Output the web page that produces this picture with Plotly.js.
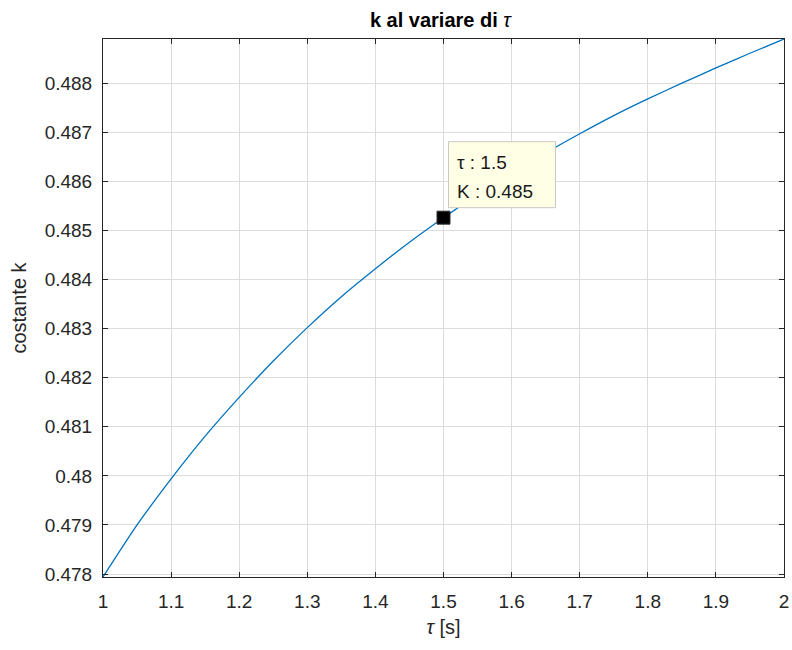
<!DOCTYPE html>
<html>
<head>
<meta charset="utf-8">
<script src="https://cdn.plot.ly/plotly-3.0.1.min.js"></script>
<style>html,body{margin:0;padding:0;background:#fff;}#chart{width:792px;height:650px;}</style>
</head>
<body>
<div id="chart"></div>
<script>
// ---- data ----
const tau = [1.00, 1.05, 1.10, 1.15, 1.20, 1.25, 1.30, 1.35, 1.40, 1.45, 1.50,
             1.55, 1.60, 1.65, 1.70, 1.75, 1.80, 1.85, 1.90, 1.95, 2.00];
const kVal = [0.47794, 0.47900, 0.47994, 0.48081, 0.48160, 0.48234, 0.48302, 0.48365, 0.48422, 0.48476, 0.48526,
              0.48573, 0.48617, 0.48658, 0.48697, 0.48734, 0.48768, 0.48800, 0.48831, 0.48861, 0.48890];
const tipX = [1.5];
const tipY = [0.48526];
const tipLines = ["τ : 1.5", "K : 0.485"];
const xTicks = [1, 1.1, 1.2, 1.3, 1.4, 1.5, 1.6, 1.7, 1.8, 1.9, 2];
const xTickText = ["1", "1.1", "1.2", "1.3", "1.4", "1.5", "1.6", "1.7", "1.8", "1.9", "2"];
const yTicks = [0.478, 0.479, 0.480, 0.481, 0.482, 0.483, 0.484, 0.485, 0.486, 0.487, 0.488];
const yTickText = ["0.478", "0.479", "0.48", "0.481", "0.482", "0.483", "0.484", "0.485", "0.486", "0.487", "0.488"];

const FONT = "Liberation Sans, Arial, Helvetica, sans-serif";
const AX = "#262626";

const traces = [
  {x: tau, y: kVal, type: "scatter", mode: "lines", line: {color: "#0072BD", width: 1.3, shape: "spline", smoothing: 0.6}, hoverinfo: "skip"},
  {x: tipX, y: tipY, type: "scatter", mode: "markers", marker: {symbol: "square", size: 13, color: "#000000", line: {color: "#333333", width: 1}}, hoverinfo: "skip"}
];

const axisCommon = {
  showline: true, linecolor: AX, linewidth: 1, mirror: "ticks",
  ticks: "inside", ticklen: 5, tickcolor: AX, tickwidth: 1,
  showgrid: true, gridcolor: "#dcdcdc", gridwidth: 1, zeroline: false,
  tickfont: {family: FONT, size: 19, color: AX}, tickmode: "array"
};

const layout = {
  width: 792, height: 650,
  paper_bgcolor: "#ffffff", plot_bgcolor: "#ffffff",
  margin: {l: 103, r: 8, t: 39, b: 73},
  showlegend: false,
  title: {text: "<b>k al variare di</b> <i>τ</i>", font: {family: FONT, size: 20, color: "#000"}, x: 0.556, xanchor: "center", y: 0.969, yanchor: "middle"},
  xaxis: Object.assign({}, axisCommon, {range: [1, 2], tickvals: xTicks, ticktext: xTickText, ticklabelstandoff: 7,
    title: {text: "<i>τ</i> [s]", font: {family: FONT, size: 20, color: AX}, standoff: 9}}),
  yaxis: Object.assign({}, axisCommon, {range: [0.47794, 0.48890], tickvals: yTicks, ticktext: yTickText, ticklabelstandoff: 6,
    title: {text: "costante k", font: {family: FONT, size: 20, color: AX}, standoff: 12}}),
  shapes: [
    {type: "rect", xref: "x", yref: "y", xsizemode: "pixel", ysizemode: "pixel",
     xanchor: tipX[0], yanchor: tipY[0], x0: 5, x1: 112, y0: 10, y1: 76,
     fillcolor: "#ffffe6", line: {color: "#c8c8c8", width: 1}, layer: "above"}
  ],
  annotations: [
    {xref: "x", yref: "y", x: tipX[0], y: tipY[0], text: tipLines[0], showarrow: false,
     xanchor: "left", yanchor: "middle", xshift: 11, yshift: 55, font: {family: FONT, size: 19, color: "#1a1a1a"}},
    {xref: "x", yref: "y", x: tipX[0], y: tipY[0], text: tipLines[1], showarrow: false,
     xanchor: "left", yanchor: "middle", xshift: 11, yshift: 26, font: {family: FONT, size: 19, color: "#1a1a1a"}}
  ]
};

Plotly.newPlot("chart", traces, layout, {displayModeBar: false, staticPlot: true});
</script>
</body>
</html>
